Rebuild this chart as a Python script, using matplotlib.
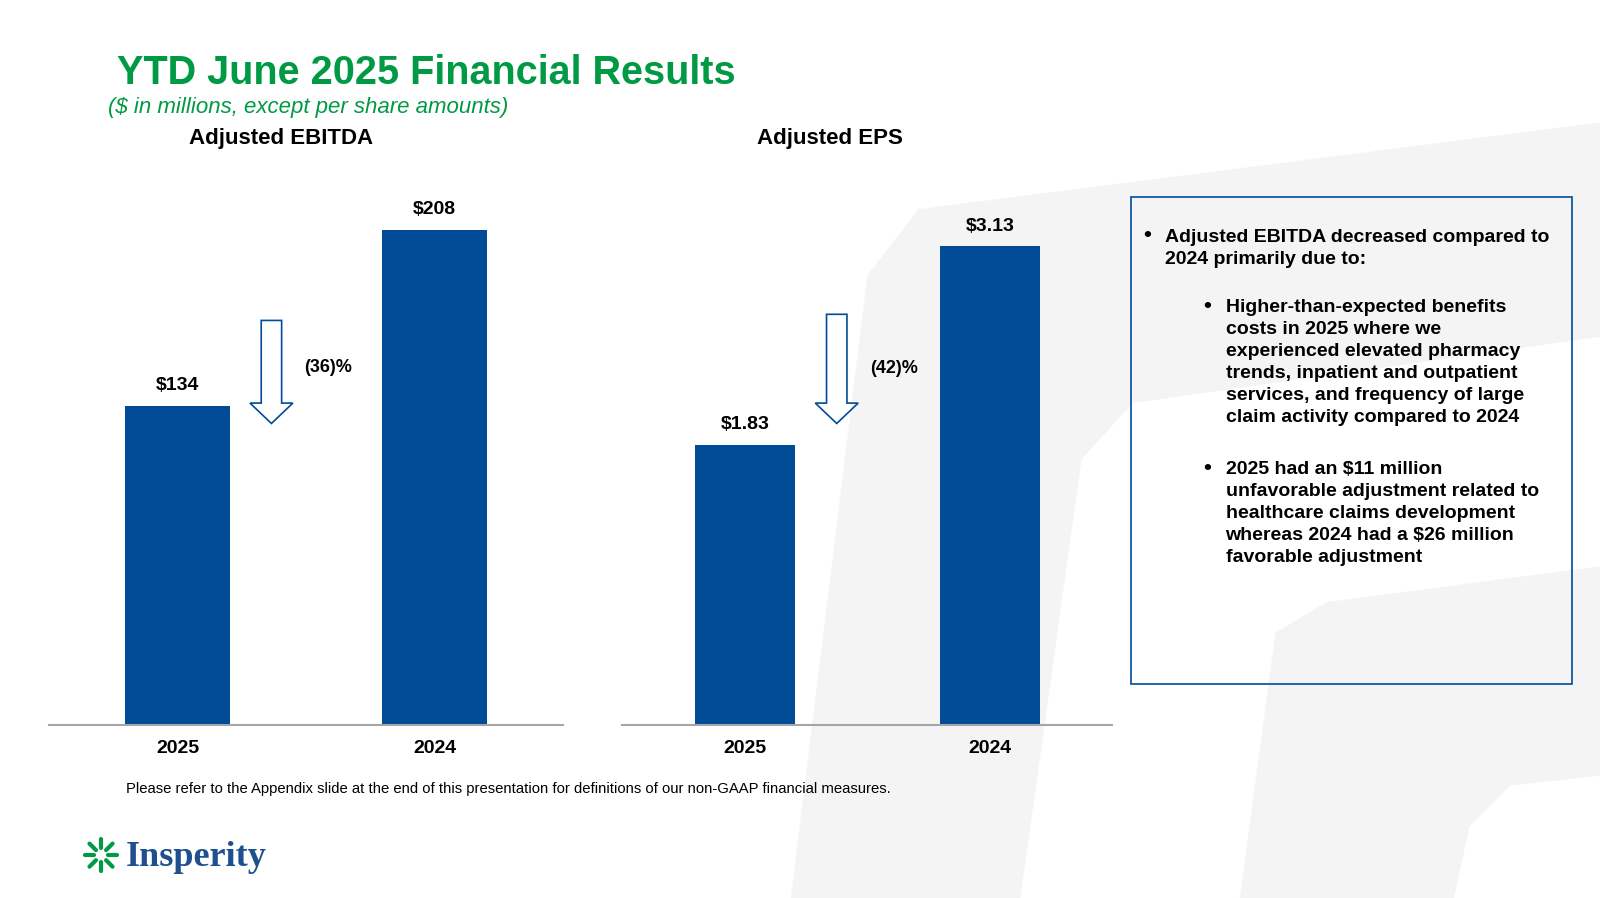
import matplotlib.pyplot as plt
from matplotlib.patches import Rectangle, Polygon
import numpy as np

plt.rcParams['font.family'] = 'Liberation Sans'

# data
years = ['2025', '2024']
ebitda = [134, 208]
ebitda_labels = ['$134', '$208']
eps = [1.83, 3.13]
eps_labels = ['$1.83', '$3.13']
ebitda_change = '(36)%'
eps_change = '(42)%'
bullets = [
    ('Adjusted EBITDA decreased compared to\n2024 primarily due to:', 0),
    ('Higher-than-expected benefits\ncosts in 2025 where we\nexperienced elevated pharmacy\ntrends, inpatient and outpatient\nservices, and frequency of large\nclaim activity compared to 2024', 1),
    ('2025 had an $11 million\nunfavorable adjustment related to\nhealthcare claims development\nwhereas 2024 had a $26 million\nfavorable adjustment', 1),
]

# coordinate frame of the reference as measured (1568 x 880)
W, H = 1568, 880
BLUE = '#004C97'
GREEN = '#009A44'
fig = plt.figure(figsize=(16, 8.98), dpi=100)

def fx(x): return x / W
def fy(y): return 1 - y / H

# faint background shape
bg = fig.add_axes([0, 0, 1, 1], zorder=-5)
bg.set_xlim(0, W); bg.set_ylim(H, 0); bg.axis('off')
bg.add_patch(Polygon([(775, 880), (850, 270), (900, 205), (1568, 120), (1568, 330),
                      (1110, 395), (1060, 450), (1000, 880)], closed=True, color='#f4f4f4', lw=0))
bg.add_patch(Polygon([(1215, 880), (1250, 620), (1300, 590), (1568, 555), (1568, 760),
                      (1480, 770), (1440, 810), (1425, 880)], closed=True, color='#f4f4f4', lw=0))

def bar_panel(left, right, vals, labels, ymax_scale, title, title_x):
    ax = fig.add_axes([fx(left), fy(710), fx(right - left), (710 - 160) / H])
    ax.bar([0, 1], vals, width=0.41, color=BLUE)
    ax.set_xlim(-0.5, 1.5)
    ax.set_ylim(0, ymax_scale)
    for i, (v, l) in enumerate(zip(vals, labels)):
        ax.text(i, v + ymax_scale * 0.02, l, ha='center', va='bottom', fontsize=14, fontweight='bold')
    ax.set_xticks([0, 1])
    ax.set_xticklabels(years, fontsize=14, fontweight='bold')
    ax.tick_params(length=0, pad=11)
    ax.set_yticks([])
    for s in ['top', 'right', 'left']:
        ax.spines[s].set_visible(False)
    ax.spines['bottom'].set_color('#a6a6a6')
    ax.spines['bottom'].set_linewidth(1.5)
    ax.patch.set_alpha(0)
    fig.text(fx(title_x), fy(136), title, ha='center', va='center', fontsize=16, fontweight='bold')
    return ax

bar_panel(48, 552, ebitda, ebitda_labels, 208 * 550 / 485, 'Adjusted EBITDA', 275)
bar_panel(610, 1090, eps, eps_labels, 3.13 * 550 / 469, 'Adjusted EPS', 813)

# hollow down arrows
for x, y0, y1, lbl, ly, lx in [(266, 314, 415, ebitda_change, 360, 298),
                               (820, 308, 415, eps_change, 361, 853)]:
    bg.add_patch(Polygon([(x - 10, y0), (x + 10, y0), (x + 10, y1 - 20), (x + 21, y1 - 20),
                          (x, y1), (x - 21, y1 - 20), (x - 10, y1 - 20)],
                         closed=True, fill=False, edgecolor=BLUE, lw=1.2))
    bg.text(lx, ly, lbl, ha='left', va='center', fontsize=13, fontweight='bold')

# text box
bg.add_patch(Rectangle((1108, 193), 433, 477, fill=False, edgecolor=BLUE, lw=1.2))
ys = [231, 300, 459]
for (txt, lvl), y in zip(bullets, ys):
    bx = 1124 if lvl == 0 else 1183
    tx = 1142 if lvl == 0 else 1201
    bg.text(bx, y, '•', fontsize=16, fontweight='bold', va='center', ha='center')
    bg.text(tx, y - 7, txt, fontsize=14, fontweight='bold', va='top', ha='left', linespacing=1.38)

# titles
fig.text(fx(115), fy(72), 'YTD June 2025 Financial Results', fontsize=28.5, fontweight='bold',
         color=GREEN, va='center')
fig.text(fx(106), fy(105), '($ in millions, except per share amounts)', fontsize=16,
         style='italic', color=GREEN, va='center')
fig.text(fx(123), fy(773), 'Please refer to the Appendix slide at the end of this presentation for definitions of our non-GAAP financial measures.',
         fontsize=10.7, va='center')

# logo
for a in np.linspace(0, 2 * np.pi, 8, endpoint=False):
    bg.plot([99 + 7 * np.cos(a), 99 + 16 * np.cos(a)], [838 + 7 * np.sin(a), 838 + 16 * np.sin(a)],
            color=GREEN, lw=3, solid_capstyle='round')
bg.text(123, 840, 'Insperity', fontsize=26, fontweight='bold', family='Liberation Serif',
        color='#1f4f8f', va='center')

fig.savefig('out.png', dpi=100)
